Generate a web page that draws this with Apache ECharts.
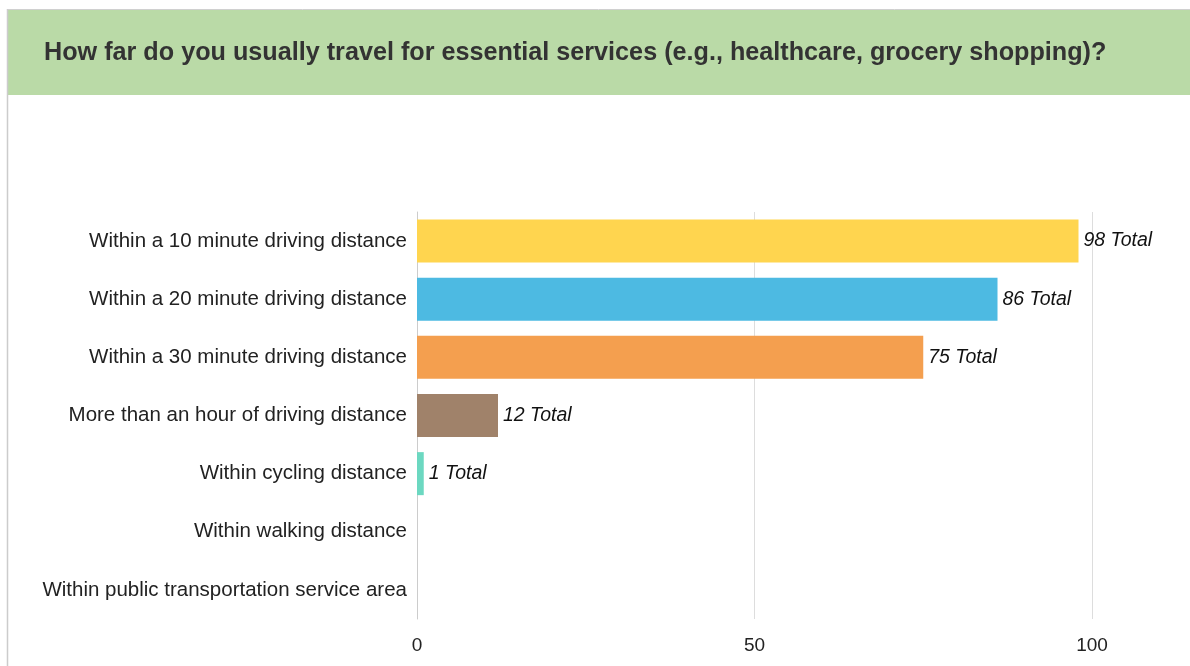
<!DOCTYPE html>
<html>
<head>
<meta charset="utf-8">
<script src="https://cdn.jsdelivr.net/npm/echarts@6/dist/echarts.min.js"></script>
<style>
html,body{margin:0;padding:0;background:#fff;}
#chart{width:1190px;height:666px;}
</style>
</head>
<body>
<div id="chart"></div>
<script>
const titleText = "How far do you usually travel for essential services (e.g., healthcare, grocery shopping)?";
const categories = [
  "Within a 10 minute driving distance",
  "Within a 20 minute driving distance",
  "Within a 30 minute driving distance",
  "More than an hour of driving distance",
  "Within cycling distance",
  "Within walking distance",
  "Within public transportation service area"
];
const values = [98, 86, 75, 12, 1, 0, 0];
const barColors = ["#FFD54F", "#4DBAE2", "#F49F4F", "#A0826A", "#6CD8C1", "#cccccc", "#cccccc"];
const xTicks = [0, 50, 100];

const chart = echarts.init(document.getElementById('chart'), null, {renderer: 'canvas'});
const font = "'Liberation Sans', Arial, sans-serif";
chart.setOption({
  animation: false,
  backgroundColor: '#ffffff',
  graphic: [
    {type: 'rect', shape: {x: 8, y: 10, width: 1182, height: 85}, style: {fill: '#BADAA7'}, z: -10},
    {type: 'line', shape: {x1: 7, y1: 9.5, x2: 1190, y2: 9.5}, style: {stroke: '#d0d0d0', lineWidth: 1}, z: -9},
    {type: 'line', shape: {x1: 7.5, y1: 9, x2: 7.5, y2: 666}, style: {stroke: '#cccccc', lineWidth: 1.5}, z: -9}
  ],
  title: {
    text: titleText,
    left: 44,
    top: 41,
    padding: 0,
    textStyle: {fontFamily: font, fontSize: 25.2, fontWeight: 'bold', color: '#333333'}
  },
  grid: {left: 417, right: 98, top: 212, bottom: 47, containLabel: false},
  xAxis: {
    type: 'value',
    min: 0, max: 100, interval: 50,
    axisLine: {show: false},
    axisTick: {show: false},
    splitLine: {show: true, lineStyle: {color: '#dddddd', width: 1}},
    axisLabel: {
      fontFamily: font, fontSize: 19, color: '#222222', margin: 17,
      formatter: function (v) { return xTicks.indexOf(v) >= 0 ? String(v) : ''; }
    }
  },
  yAxis: {
    type: 'category',
    data: categories,
    inverse: true,
    axisLine: {show: true, lineStyle: {color: '#cccccc', width: 1}},
    axisTick: {show: false},
    axisLabel: {fontFamily: font, fontSize: 20.5, color: '#222222', margin: 10, padding: [3, 0, 0, 0]}
  },
  series: [{
    type: 'bar',
    data: values.map((v, i) => ({value: v, itemStyle: {color: barColors[i]}})),
    barCategoryGap: '26%',
    label: {
      show: true,
      position: 'right',
      distance: 5,
      fontFamily: font,
      fontSize: 19.5,
      fontStyle: 'italic',
      color: '#111111',
      padding: [3, 0, 0, 0],
      formatter: function (p) { return p.value > 0 ? p.value + ' Total' : ''; }
    }
  }]
});
</script>
</body>
</html>
